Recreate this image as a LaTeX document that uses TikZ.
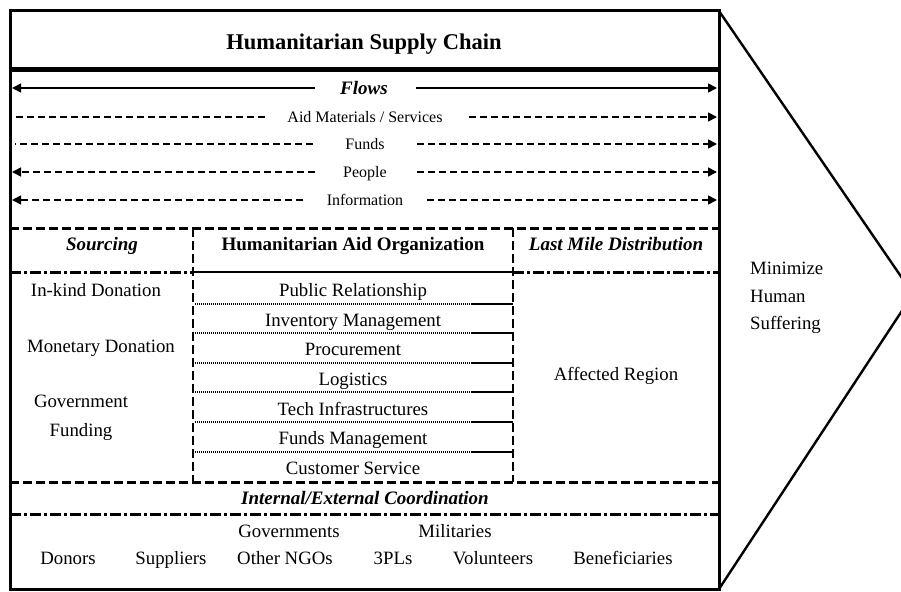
\documentclass[tikz,border=0pt]{standalone}
\usepackage{fontspec}
\setmainfont{Liberation Serif}
\usetikzlibrary{arrows.meta}
\begin{document}
\begin{tikzpicture}[x=1pt,y=-1pt,
  txt/.style={inner sep=0pt, yshift=-2pt, font=\fontsize{18.8}{20}\selectfont, text height=12pt, text depth=3pt},
  small/.style={inner sep=0pt, yshift=-2pt, font=\fontsize{16}{18}\selectfont, text height=10pt, text depth=3pt},
  head/.style={inner sep=0pt, yshift=-2pt, font=\fontsize{19}{21}\selectfont\bfseries, text height=12pt, text depth=3pt},
  headit/.style={head, font=\fontsize{19}{21}\selectfont\bfseries\itshape},
  tip/.style={-{Triangle[length=9pt,width=9pt]}},
  flowline/.style={line width=1.7pt, dash pattern=on 7pt off 4pt},
  solidflow/.style={line width=1.7pt},
  frame/.style={line width=3pt},
  dashsep/.style={line width=3pt, dash pattern=on 9pt off 4pt},
  vdash/.style={line width=2.6pt, dash pattern=on 9pt off 4pt},
  dashdot/.style={line width=3pt, dash pattern=on 11pt off 3pt on 3pt off 3pt},
  dotsep/.style={line width=1.2pt, dash pattern=on 1pt off 1pt},
  thinsep/.style={line width=1.8pt}
]
\useasboundingbox (0,0) rectangle (901,591);
\clip (0,0) rectangle (901,591);
\fill[white] (0,0) rectangle (901,591);

% frame and arrow shape
\draw[frame] (10,11) rectangle (719,589);
\draw[line width=2.4pt] (719,11) -- (913,294) -- (719,589);
\draw[line width=5pt] (10,70) -- (719,70);

% title
\node[head, yshift=-1pt, font=\fontsize{22.5}{24}\selectfont\bfseries] (title) at (364,42) {Humanitarian Supply Chain};

% flows
\node[headit] (flows) at (364,88) {Flows};
\node[small] (aid) at (365,117) {Aid Materials / Services};
\node[small] (funds) at (365,144) {Funds};
\node[small] (people) at (365,172) {People};
\node[small] (info) at (365,200) {Information};

\coordinate (flL1) at (315,88);  \coordinate (flL0) at (12,88);
\coordinate (flR1) at (416,88);  \coordinate (flR0) at (717,88);
\coordinate (aiL1) at (265,117); \coordinate (aiL0) at (15,117);
\coordinate (aiR1) at (469,117); \coordinate (aiR0) at (717,117);
\coordinate (fuL1) at (313,144); \coordinate (fuL0) at (15,144);
\coordinate (fuR1) at (417,144); \coordinate (fuR0) at (717,144);
\coordinate (peL1) at (315,172); \coordinate (peL0) at (12,172);
\coordinate (peR1) at (417,172); \coordinate (peR0) at (717,172);
\coordinate (inL1) at (303,200); \coordinate (inL0) at (12,200);
\coordinate (inR1) at (427,200); \coordinate (inR0) at (717,200);

\draw[solidflow,tip] (flL1) -- (flL0);
\draw[solidflow,tip] (flR1) -- (flR0);
\draw[flowline] (aiL1) -- (aiL0);
\draw[flowline,tip] (aiR1) -- (aiR0);
\draw[flowline] (fuL1) -- (fuL0);
\draw[flowline,tip] (fuR1) -- (fuR0);
\draw[flowline,tip] (peL1) -- (peL0);
\draw[flowline,tip] (peR1) -- (peR0);
\draw[flowline,tip] (inL1) -- (inL0);
\draw[flowline,tip] (inR1) -- (inR0);

% section lines
\draw[dashsep] (10,228) -- (719,228);
\draw[vdash] (193,228) -- (193,482);
\draw[vdash] (513,228) -- (513,482);
\draw[dashdot] (10,272) -- (193,272);
\draw[thinsep] (193,272) -- (513,272);
\draw[dashdot] (513,272) -- (719,272);
\foreach \yy in {304,333,363,392,422,452}{
  \draw[dotsep] (195,\yy) -- (472,\yy);
  \draw[thinsep] (472,\yy) -- (513,\yy);
}
\draw[dashsep] (10,482) -- (719,482);
\draw[dashdot] (10,514) -- (719,514);

% headers
\node[headit] (sourcing) at (102,244) {Sourcing};
\node[head] (hao) at (353,244) {Humanitarian Aid Organization};
\node[headit] (lmd) at (616,244) {Last Mile Distribution};

% sourcing items
\node[txt] (inkind) at (96,290) {In-kind Donation};
\node[txt] (monetary) at (101,346) {Monetary Donation};
\node[txt] (gov) at (81,401) {Government};
\node[txt] (funding) at (81,430) {Funding};

% organization functions
\node[txt] (pr) at (353,290) {Public Relationship};
\node[txt] (inv) at (353,320) {Inventory Management};
\node[txt] (proc) at (353,349) {Procurement};
\node[txt] (log) at (353,379) {Logistics};
\node[txt] (tech) at (353,409) {Tech Infrastructures};
\node[txt] (fm) at (353,438) {Funds Management};
\node[txt] (cs) at (353,468) {Customer Service};

\node[txt] (affected) at (616,374) {Affected Region};

% coordination
\node[headit] (coord) at (365,498) {Internal/External Coordination};
\node[txt] (govs) at (289,531) {Governments};
\node[txt] (mil) at (455,531) {Militaries};
\node[txt] (donors) at (68,558) {Donors};
\node[txt] (suppliers) at (171,558) {Suppliers};
\node[txt] (ngos) at (285,558) {Other NGOs};
\node[txt] (tpl) at (393,558) {3PLs};
\node[txt] (vol) at (493,558) {Volunteers};
\node[txt] (ben) at (623,558) {Beneficiaries};

% goal
\node[txt, anchor=west] (minimize) at (750,268) {Minimize};
\node[txt, anchor=west] (human) at (750,296) {Human};
\node[txt, anchor=west] (suffering) at (750,323) {Suffering};
\end{tikzpicture}
\end{document}
